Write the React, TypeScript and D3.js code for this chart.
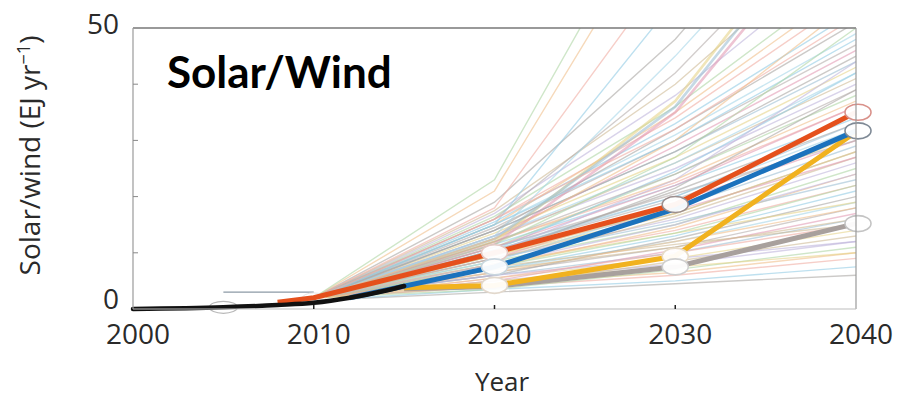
import React from "react";
import * as d3 from "d3";

// Axis ticks and labels
const xTickYears = [2000, 2010, 2020, 2030, 2040];
const yTickLabels = [0, 50];
const yMinorTicks = [10, 20, 30, 40];

// Ensemble of scenario pathways (EJ/yr), sampled at these years
const scenarioYears = [2010, 2020, 2030, 2040];
const scenarios: number[][] = [
  [1.5, 3.0, 4.5, 6],
  [1.5, 3.5, 5, 7.5],
  [2, 4, 6, 9],
  [2, 4.5, 6.5, 10],
  [2, 3.5, 7, 11],
  [2, 5, 8, 12],
  [2, 4, 8.5, 13],
  [2, 5.5, 9, 14],
  [2, 6, 10, 16],
  [2, 5, 10.5, 17],
  [2, 6.5, 11, 18],
  [2, 7, 12, 19],
  [2, 6, 12.5, 20],
  [2, 7, 13, 21],
  [2, 8, 14, 22],
  [2, 7.5, 14.5, 24],
  [2, 8.5, 15, 25],
  [2, 9, 16, 26],
  [2, 8, 16.5, 27],
  [2, 9.5, 17, 28],
  [2, 10, 18, 29],
  [2, 9, 19, 30],
  [2, 10.5, 19.5, 31],
  [2, 11, 20, 32],
  [2, 10, 21, 33],
  [2, 11.5, 22, 34],
  [2, 12, 22.5, 36],
  [2, 12, 23, 37],
  [2, 11, 24, 38],
  [2, 13, 25, 40],
  [2, 12.5, 26, 41],
  [2, 13.5, 27, 43],
  [2, 14, 28, 44],
  [2, 13, 29, 46],
  [2, 14.5, 30, 47],
  [2, 15, 31, 49],
  [2, 14, 32, 51],
  [2, 15.5, 33, 53],
  [2, 16, 34, 56],
  [2, 15, 35, 58],
  [2, 16.5, 36, 60],
  [2, 17, 38, 64],
  [2, 17.5, 40, 68],
  [2, 12, 37, 78],
  [2, 12.5, 36, 76],
  [2, 11.5, 35, 74],
  [2, 16, 42, 75],
  [2, 13, 45, 80],
  [2, 19, 48, 85],
  [2, 15, 55, 90],
  [2, 18, 62, 100],
  [2, 21, 74, 120],
  [2, 23, 80, 130],
  [2, 6, 9, 12],
  [2, 7.5, 11.5, 15],
  [2, 8, 13.5, 19],
  [2, 9, 15.5, 23],
  [2, 10, 17.5, 27],
  [2, 11, 20.5, 30],
  [2, 8.5, 18.5, 35],
  [2, 9.5, 21.5, 39],
  [2, 10.5, 24.5, 42],
  [1.8, 5.5, 10, 15],
  [1.8, 6.5, 12, 18],
  [1.8, 7.5, 13.5, 22],
  [1.8, 8, 15, 24],
  [1.8, 9, 17, 28],
  [1.8, 9.5, 18, 31],
  [1.8, 10.5, 20, 33],
  [1.8, 11, 22, 36],
  [1.8, 12, 24, 39],
  [1.8, 13, 26, 42],
  [1.8, 14, 28, 45],
  [1.8, 15, 30, 48],
  [1.8, 16, 32, 52],
  [1.8, 12.5, 30, 55],
  [1.8, 11.5, 27, 50],
  [1.8, 10, 23, 44],
  [1.8, 7, 11, 16],
  [1.8, 5, 7.5, 10],
];
const scenarioColors = [
  "#aaa6a3", "#93cbe4", "#f0ada3", "#f0c08c", "#afd6a5",
  "#bfb6dc", "#cfbb96", "#e6d48a", "#9fbfd3", "#e39db6",
  "#b5aeac", "#a6d6e8",
];

// Early reference pathway
const earlyYears = [2005, 2010];
const earlyValues = [3, 3];

// Historical deployment
const historyYears = [2000, 2005, 2008, 2010, 2012, 2014, 2015];
const historyValues = [0, 0.3, 0.7, 1.1, 2.0, 3.3, 4.1];

// Highlighted projections
const redYears = [2008, 2010, 2020, 2030, 2040];
const redValues = [1.2, 2.0, 10, 18.6, 35];
const blueYears = [2012, 2020, 2030, 2040];
const blueValues = [2.0, 7.5, 17.8, 31.7];
const yellowYears = [2015, 2020, 2030, 2040];
const yellowValues = [3.8, 4.2, 9.4, 31.5];
const greyYears = [2015, 2020, 2030, 2040];
const greyValues = [3.6, 4.0, 7.5, 15.2];

const W = 912;
const H = 399;
const left = 133;
const right = 856;
const top = 28;
const bottom = 309;

const x = d3.scaleLinear().domain([2000, 2040]).range([left, right]);
const y = d3.scaleLinear().domain([0, 50]).range([bottom, top]);

type Pt = [number, number];
const zip = (years: number[], vals: number[]): Pt[] => years.map((yr, i) => [yr, vals[i]]);

const line = d3
  .line<Pt>()
  .x((d) => x(d[0]))
  .y((d) => y(d[1]));
const smoothLine = d3
  .line<Pt>()
  .x((d) => x(d[0]))
  .y((d) => y(d[1]))
  .curve(d3.curveMonotoneX);

const thick = [
  { years: greyYears, values: greyValues, color: "#a8a09d" },
  { years: yellowYears, values: yellowValues, color: "#f1b21f" },
  { years: blueYears, values: blueValues, color: "#1b72bd" },
  { years: redYears, values: redValues, color: "#e5501c" },
];

// Highlighted points (year, value, outline colour)
const markerYears = [2020, 2020, 2020, 2030, 2030, 2030, 2040, 2040, 2040];
const markerValues = [10, 7.5, 4.2, 18.6, 9.4, 7.5, 35, 31.7, 15.2];
const markerStrokes = [
  "#e3c9c4", "#c9d6de", "#e2d8cc", "#9c8f8f", "#e8dcc8", "#cfcfcf",
  "#d9918a", "#7f8a96", "#c4c4c4",
];

const tickFont = "'Open Sans', 'DejaVu Sans', sans-serif";

export default function App() {
  return (
    <svg
      width={W}
      height={H}
      style={{ position: "absolute", left: 0, top: 0, background: "#fff" }}
    >
      <defs>
        <clipPath id="plot-clip">
          <rect x={left} y={top} width={right - left} height={bottom - top} />
        </clipPath>
      </defs>

      {/* scenario ensemble */}
      <g clipPath="url(#plot-clip)" fill="none">
        {scenarios.map((vals, i) => (
          <path
            key={i}
            d={line(zip(scenarioYears, vals)) || ""}
            stroke={scenarioColors[i % scenarioColors.length]}
            strokeWidth={i >= 43 && i <= 45 ? 2.6 : 1.4}
            strokeOpacity={0.6}
          />
        ))}
        <path
          d={line(zip(earlyYears, earlyValues)) || ""}
          stroke="#8c9aa6"
          strokeWidth={1.2}
        />
      </g>

      {/* faint early markers */}
      <ellipse cx={x(2005)} cy={y(0.3)} rx={14} ry={6} fill="none" stroke="#b8b8b8" strokeWidth={1.2} />
      <ellipse cx={x(2010)} cy={y(1.8)} rx={12} ry={6} fill="#fff" fillOpacity={0.6} stroke="#e6e6e6" strokeWidth={1} />

      {/* highlighted projections */}
      <g fill="none" strokeLinejoin="round">
        {thick.map((s, i) => (
          <path
            key={i}
            d={line(zip(s.years, s.values)) || ""}
            stroke={s.color}
            strokeWidth={5}
          />
        ))}
        <path
          d={smoothLine(zip(historyYears, historyValues)) || ""}
          stroke="#111"
          strokeWidth={4.5}
          strokeLinecap="round"
        />
      </g>

      {/* markers */}
      {markerYears.map((yr, i) => (
        <ellipse
          key={i}
          cx={x(yr) + (yr === 2040 ? 2 : 0)}
          cy={y(markerValues[i])}
          rx={13}
          ry={8}
          fill="#fff"
          fillOpacity={0.95}
          stroke={markerStrokes[i]}
          strokeWidth={1.6}
        />
      ))}

      {/* frame */}
      <g fill="none">
        <line x1={left} x2={right} y1={top} y2={top} stroke="#777" strokeWidth={1.6} />
        <line x1={right} x2={right} y1={top} y2={bottom} stroke="#9a9a9a" strokeWidth={1.2} />
        <line x1={left} x2={right} y1={bottom} y2={bottom} stroke="#bdbdbd" strokeWidth={1.2} />
        <line x1={left} x2={left} y1={top} y2={bottom} stroke="#9a9a9a" strokeWidth={1.2} />
      </g>

      {/* ticks */}
      {yMinorTicks.map((v) => (
        <line key={v} x1={left} x2={left + 5} y1={y(v)} y2={y(v)} stroke="#888" strokeWidth={1} />
      ))}
      {xTickYears.slice(1, 4).map((yr) => (
        <line key={yr} x1={x(yr)} x2={x(yr)} y1={bottom} y2={bottom - 4} stroke="#222" strokeWidth={1.5} />
      ))}

      {/* tick labels */}
      {xTickYears.map((yr) => (
        <text
          key={yr}
          x={x(yr) + 5}
          y={344}
          textAnchor="middle"
          fontFamily={tickFont}
          fontSize={28}
          fill="#2a2a2a"
        >
          {yr}
        </text>
      ))}
      {yTickLabels.map((v) => (
        <text
          key={v}
          x={119}
          y={y(v) + (v === 0 ? 0 : 6)}
          textAnchor="end"
          fontFamily={tickFont}
          fontSize={28}
          fill="#2a2a2a"
        >
          {v}
        </text>
      ))}

      {/* axis titles */}
      <text
        x={502}
        y={391}
        textAnchor="middle"
        fontFamily={tickFont}
        fontSize={26}
        fill="#2a2a2a"
      >
        Year
      </text>
      <text
        transform={`translate(40, ${(top + bottom) / 2 - 13}) rotate(-90)`}
        textAnchor="middle"
        fontFamily={tickFont}
        fontSize={28}
        fill="#2a2a2a"
      >
        Solar/wind (EJ yr
        <tspan dy={-10} fontSize={18}>−1</tspan>
        <tspan dy={10}>)</tspan>
      </text>

      {/* panel title */}
      <text
        x={167}
        y={88}
        fontFamily="Lato, 'Open Sans', sans-serif"
        fontWeight={700}
        fontSize={44}
        fill="#000"
      >
        Solar/Wind
      </text>
    </svg>
  );
}
